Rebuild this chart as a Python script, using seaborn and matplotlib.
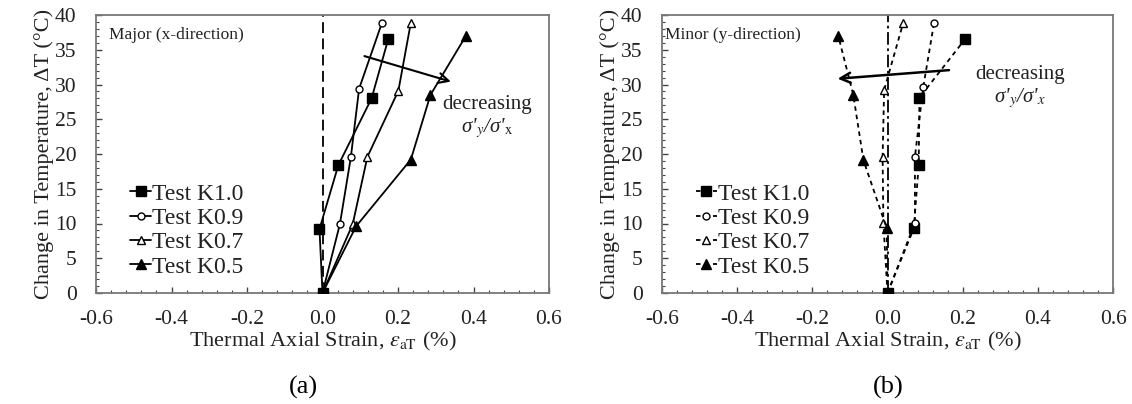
import matplotlib
matplotlib.use("Agg")
import matplotlib.pyplot as plt
from matplotlib.ticker import MultipleLocator
import seaborn as sns
import pandas as pd

sns.set_theme(style="white")
plt.rcParams['font.family'] = ['Liberation Serif', 'DejaVu Serif']
plt.rcParams['mathtext.fontset'] = 'stix'

tests = ["Test K1.0", "Test K0.9", "Test K0.7", "Test K0.5"]

# Panel (a): major (x-direction)
temp_a_K10 = [0, 9.2, 18.4, 28.0, 36.5]
strain_a_K10 = [0.0, -0.008, 0.042, 0.130, 0.174]
temp_a_K09 = [0, 9.9, 19.5, 29.4, 38.8]
strain_a_K09 = [0.0, 0.046, 0.075, 0.097, 0.157]
temp_a_K07 = [0, 9.9, 19.6, 29.1, 38.9]
strain_a_K07 = [0.0, 0.080, 0.119, 0.201, 0.234]
temp_a_K05 = [0, 9.6, 19.2, 28.5, 37.0]
strain_a_K05 = [0.0, 0.089, 0.234, 0.286, 0.380]

# Panel (b): minor (y-direction)
temp_b_K10 = [0, 9.3, 18.4, 28.1, 36.5]
strain_b_K10 = [0.0, 0.070, 0.083, 0.085, 0.206]
temp_b_K09 = [0, 10.1, 19.6, 29.6, 38.9]
strain_b_K09 = [0.0, 0.073, 0.073, 0.095, 0.124]
temp_b_K07 = [0, 10.1, 19.6, 29.2, 38.9]
strain_b_K07 = [0.0, -0.011, -0.013, -0.009, 0.042]
temp_b_K05 = [0, 9.3, 19.1, 28.5, 37.0]
strain_b_K05 = [0.0, -0.002, -0.064, -0.091, -0.131]

x_ticks = [-0.6, -0.4, -0.2, 0.0, 0.2, 0.4, 0.6]
y_ticks = [0, 5, 10, 15, 20, 25, 30, 35, 40]

panel_a = [(strain_a_K10, temp_a_K10), (strain_a_K09, temp_a_K09),
           (strain_a_K07, temp_a_K07), (strain_a_K05, temp_a_K05)]
panel_b = [(strain_b_K10, temp_b_K10), (strain_b_K09, temp_b_K09),
           (strain_b_K07, temp_b_K07), (strain_b_K05, temp_b_K05)]

styles = [dict(marker='s', markerfacecolor='black', markersize=6.5),
          dict(marker='o', markerfacecolor='white', markersize=5),
          dict(marker='^', markerfacecolor='white', markersize=5.5),
          dict(marker='^', markerfacecolor='black', markersize=6.5)]

TXT = '#222222'
fig = plt.figure(figsize=(11.32, 4.04), dpi=100)
ax_a = fig.add_axes([96/1132, 1-293/404, (549-96)/1132, 278/404])
ax_b = fig.add_axes([662/1132, 1-293/404, (1113-662)/1132, 278/404])


def draw(ax, panel, ls, zero_ls):
    ax.axvline(0, color='black', lw=1.3, linestyle=zero_ls, zorder=1)
    for name, (xs, ys), st in zip(tests, panel, styles):
        df = pd.DataFrame({'strain': xs, 'temp': ys})
        sns.lineplot(data=df, x='strain', y='temp', sort=False, estimator=None,
                     ax=ax, color='black', lw=1.3, linestyle=ls,
                     markeredgecolor='black', markeredgewidth=1.0,
                     label=name, zorder=3, **st)
    ax.set_xlim(-0.6, 0.6)
    ax.set_ylim(0, 40)
    ax.set_xticks(x_ticks)
    ax.set_xticklabels([f"{v:.1f}" for v in x_ticks])
    ax.set_yticks(y_ticks)
    ax.xaxis.set_minor_locator(MultipleLocator(0.04))
    ax.yaxis.set_minor_locator(MultipleLocator(1))
    ax.tick_params(axis='both', which='major', direction='in', length=4.5,
                   width=1, color='#444444', labelsize=15.5, labelcolor=TXT,
                   bottom=True, left=True, top=False, right=False)
    ax.tick_params(axis='x', which='major', pad=12)
    ax.tick_params(axis='y', which='major', pad=14)
    ax.tick_params(axis='both', which='minor', direction='in', length=2.5,
                   width=0.8, color='#444444', bottom=True, left=True,
                   top=False, right=False)
    for sp in ax.spines.values():
        sp.set_color('#777777')
        sp.set_linewidth(1.3)
    ax.set_xlabel(r'Thermal Axial Strain, $\varepsilon_{\mathrm{aT}}$ (%)',
                  fontsize=16, color=TXT, labelpad=1)
    ax.set_ylabel('Change in Temperature, ΔT (°C)', fontsize=16, color=TXT,
                  labelpad=1)
    leg = ax.legend(loc='center left', bbox_to_anchor=(0.075, 0.225),
                    frameon=False, fontsize=17, handlelength=0.9,
                    handletextpad=0.05, labelspacing=0.12, borderpad=0,
                    borderaxespad=0, numpoints=1)
    for t in leg.get_texts():
        t.set_color(TXT)


draw(ax_a, panel_a, '-', (0, (6, 3)))
draw(ax_b, panel_b, (0, (2.5, 2.2)), (0, (7, 2, 1.5, 2)))

# annotations panel (a)
ax_a.text(-0.566, 37.1, 'Major (x-direction)', fontsize=12.5, color=TXT,
          ha='left', va='center')
ax_a.annotate('', xy=(0.347, 30.3), xytext=(0.104, 34.2),
              arrowprops=dict(arrowstyle='->,head_length=0.6,head_width=0.3',
                              color='black', lw=1.5))
ax_a.text(0.435, 27.1, 'decreasing', fontsize=15, color=TXT, ha='center',
          va='center')
ax_a.text(0.435, 23.7, "σ'$_{y}$/σ'$_{\\mathrm{x}}$", fontsize=15,
          fontstyle='italic', color=TXT, ha='center', va='center')

# annotations panel (b)
ax_b.text(-0.592, 37.1, 'Minor (y-direction)', fontsize=12.5, color=TXT,
          ha='left', va='center')
ax_b.annotate('', xy=(-0.140, 30.8), xytext=(0.171, 32.1),
              arrowprops=dict(arrowstyle='->,head_length=0.6,head_width=0.3',
                              color='black', lw=1.8))
ax_b.text(0.352, 31.5, 'decreasing', fontsize=15, color=TXT, ha='center',
          va='center')
ax_b.text(0.352, 28.1, "σ'$_{y}$/σ'$_{x}$", fontsize=15,
          fontstyle='italic', color=TXT, ha='center', va='center')

fig.text(303/1132, 1-387/404, '(a)', fontsize=19, color='black',
         ha='center', va='center')
fig.text(888/1132, 1-387/404, '(b)', fontsize=19, color='black',
         ha='center', va='center')

fig.savefig('out.png', dpi=100, facecolor='white')
